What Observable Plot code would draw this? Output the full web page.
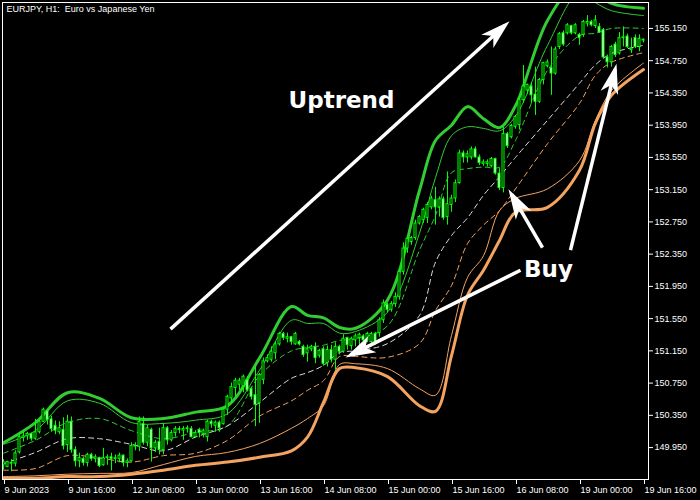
<!DOCTYPE html>
<html><head><meta charset="utf-8">
<script src="https://cdn.jsdelivr.net/npm/d3@7"></script>
<script src="https://cdn.jsdelivr.net/npm/@observablehq/plot@0.6"></script>
<style>html,body{margin:0;padding:0;background:#000;}#chart{width:700px;height:500px;}</style>
</head><body><div id="chart"></div>
<script>
const title = "EURJPY, H1:  Euro vs Japanese Yen";

// hourly candles, bar 0 = 9 Jun 2023 00:00
const opens = [
149.73,149.71,149.75,149.75,149.89,150.07,150.09,150.12,150.06,150.14,
150.27,150.40,150.30,150.22,150.14,150.17,149.98,150.27,149.92,149.78,
149.81,149.76,149.86,149.81,149.82,149.73,149.82,149.83,149.81,149.81,
149.85,149.76,149.78,149.96,149.96,150.24,150.01,150.17,149.94,150.02,
149.92,150.19,150.04,150.13,150.18,150.16,150.18,150.18,150.08,150.17,
150.12,150.08,150.27,150.22,150.26,150.24,150.42,150.56,150.69,150.73,
150.71,150.79,150.68,150.60,150.50,150.79,151.02,151.04,151.12,151.23,
151.36,151.30,151.32,151.23,151.26,151.20,151.12,151.17,151.20,151.09,
151.17,151.00,151.16,151.04,151.20,151.14,151.31,151.21,151.28,151.31,
151.33,151.28,151.26,151.36,151.37,151.53,151.72,151.66,151.73,151.82,
152.13,152.42,152.50,152.55,152.73,152.77,152.80,152.93,153.02,152.93,
153.03,152.81,152.96,153.04,153.23,153.60,153.55,153.55,153.65,153.55,
153.47,153.47,153.44,153.53,153.35,153.17,153.84,153.80,153.93,153.95,
154.26,154.38,154.43,154.33,154.24,154.51,154.68,154.66,154.59,154.92,
155.09,155.09,155.18,155.09,155.07,155.07,155.21,155.23,155.18,155.17,
155.13,154.79,154.73,154.95,154.84,155.03,155.05,154.88,155.03,154.92,
155.00];
const highs = [
149.80,149.78,149.80,149.91,150.12,150.14,150.14,150.13,150.30,150.29,
150.44,150.42,150.34,150.28,150.27,150.32,150.35,150.33,149.96,149.88,
149.83,149.88,149.88,149.86,149.83,149.94,149.86,149.88,149.86,149.88,
149.86,149.81,150.01,150.01,150.33,150.33,150.23,150.19,150.04,150.19,
150.25,150.21,150.16,150.21,150.21,150.21,150.22,150.21,150.16,150.19,
150.18,150.29,150.29,150.28,150.28,150.44,150.60,150.75,150.81,150.81,
150.85,150.83,150.70,150.95,150.87,151.06,151.10,151.20,151.26,151.38,
151.38,151.37,151.33,151.38,151.28,151.22,151.22,151.22,151.25,151.17,
151.20,151.21,151.22,151.25,151.22,151.35,151.32,151.32,151.36,151.37,
151.35,151.38,151.38,151.38,151.56,151.78,151.74,151.76,151.87,152.15,
152.49,152.56,152.57,152.77,152.83,152.92,152.99,153.07,153.18,153.06,
153.06,153.37,153.08,153.27,153.64,153.63,153.63,153.68,153.68,153.58,
153.52,153.52,153.55,153.54,153.42,153.92,153.86,153.96,154.07,154.30,
154.69,154.46,154.47,154.67,154.53,154.73,154.76,154.92,154.92,155.10,
155.12,155.21,155.19,155.21,155.09,155.25,155.31,155.25,155.31,155.21,
155.15,154.82,154.94,154.98,155.10,155.17,155.08,155.03,155.07,155.07,
155.02];
const lows = [
149.67,149.70,149.65,149.71,149.87,150.02,150.04,150.03,150.04,150.12,
150.26,150.23,150.14,150.11,150.11,149.92,149.89,149.88,149.71,149.70,
149.72,149.71,149.78,149.76,149.70,149.72,149.73,149.66,149.75,149.76,
149.71,149.70,149.77,149.91,149.90,149.98,149.96,149.77,149.89,149.86,
149.86,149.98,150.02,150.08,150.12,150.04,150.13,150.07,150.07,150.07,
150.07,150.02,150.19,150.14,150.14,150.23,150.35,150.51,150.58,150.66,
150.63,150.64,150.54,150.21,150.25,150.73,151.00,151.01,151.04,151.21,
151.28,151.25,151.22,151.22,151.21,151.07,151.01,151.14,150.99,151.06,
150.96,150.95,151.00,150.91,151.10,151.12,151.16,151.16,151.20,151.20,
151.26,151.25,151.20,151.22,151.32,151.49,151.62,151.63,151.69,151.78,
152.09,152.36,152.46,152.52,152.71,152.73,152.73,152.90,152.71,152.81,
152.77,152.71,152.87,152.99,153.22,153.48,153.48,153.52,153.54,153.45,
153.44,153.43,153.42,153.33,153.14,153.11,153.66,153.78,153.90,153.89,
154.22,154.33,154.22,154.07,154.22,154.45,154.66,154.32,154.57,154.89,
154.93,155.07,155.07,155.07,154.94,155.04,155.17,155.17,155.15,155.09,
154.78,154.66,154.67,154.79,154.82,154.92,154.90,154.84,154.90,154.86,
154.97];
const closes = [
149.77,149.77,149.76,149.88,150.08,150.09,150.12,150.06,150.14,150.27,
150.42,150.29,150.18,150.16,150.19,149.97,150.27,149.92,149.78,149.82,
149.76,149.86,149.81,149.83,149.72,149.82,149.83,149.81,149.82,149.85,
149.76,149.78,149.97,149.97,150.27,150.01,150.19,149.94,150.01,149.92,
150.19,150.04,150.13,150.18,150.17,150.18,150.19,150.08,150.13,150.13,
150.16,150.27,150.24,150.26,150.19,150.42,150.58,150.70,150.78,150.78,
150.83,150.66,150.58,150.48,150.85,151.02,151.06,151.14,151.23,151.36,
151.31,151.32,151.26,151.36,151.23,151.10,151.17,151.20,151.06,151.15,
150.99,151.16,151.04,151.20,151.14,151.30,151.22,151.30,151.33,151.35,
151.28,151.36,151.36,151.25,151.53,151.74,151.66,151.73,151.82,152.13,
152.42,152.54,152.55,152.73,152.81,152.90,152.96,153.04,152.93,153.03,
152.80,152.97,153.04,153.23,153.60,153.55,153.59,153.65,153.55,153.48,
153.49,153.49,153.53,153.35,153.17,153.84,153.69,153.94,154.05,154.26,
154.43,154.45,154.32,154.24,154.51,154.72,154.73,154.59,154.89,155.08,
154.95,155.19,155.09,155.19,155.03,155.23,155.23,155.19,155.25,155.10,
154.79,154.73,154.92,154.82,155.03,155.04,154.92,154.90,154.92,155.02,
155.01];

// band lines sampled at these bars
const bandBars = [0,8,16,24,32,40,48,56,64,72,76,80,84,88,96,104,108,112,116,120,124,128,136,144,148,152,160];
const upperThick = [150.01,150.26,150.63,150.56,150.32,150.31,150.39,150.47,151.06,151.70,151.59,151.56,151.44,151.43,151.78,153.14,153.76,153.95,154.18,154.03,153.92,154.19,155.25,155.74,155.60,155.46,155.40];
const upperThin  = [149.99,150.16,150.53,150.50,150.26,150.25,150.29,150.37,150.91,151.53,151.49,151.49,151.37,151.39,151.63,152.61,153.30,153.82,153.93,153.91,153.88,154.06,154.94,155.60,155.47,155.37,155.31];
const upperDash  = [149.88,150.04,150.26,150.31,150.16,150.06,150.14,150.22,150.84,151.15,151.19,151.22,151.28,151.30,151.46,152.40,152.83,153.36,153.41,153.43,153.43,153.76,154.63,155.06,155.09,155.15,155.15];
const middleDash = [149.75,149.89,150.06,150.06,149.99,149.91,150.08,150.22,150.51,150.81,150.88,150.97,151.13,151.15,151.24,151.59,152.25,152.58,152.80,153.08,153.31,153.55,154.01,154.47,154.70,154.84,154.94];
const lowerDash  = [149.67,149.69,149.85,149.82,149.77,149.85,149.88,150.04,150.34,150.53,150.66,150.78,151.08,151.08,151.07,151.24,151.65,151.96,152.48,152.71,152.89,153.16,153.72,154.22,154.57,154.73,154.85];
const lowerThin  = [149.59,149.60,149.62,149.63,149.64,149.74,149.84,149.89,150.00,150.19,150.31,150.47,150.98,150.99,150.93,150.68,150.60,151.34,152.06,152.33,152.89,153.04,153.16,153.51,154.01,154.38,154.72];
const lowerThick = [149.57,149.57,149.59,149.59,149.62,149.67,149.73,149.77,149.83,149.91,150.08,150.51,150.93,150.94,150.83,150.47,150.40,151.09,151.84,152.15,152.52,152.87,152.93,153.39,153.98,154.32,154.64];

const priceTicks = [155.15,154.75,154.35,153.95,153.55,153.15,152.75,152.35,151.95,151.55,151.15,150.75,150.35,149.95];
const timeTickBars = [0,16,32,48,64,80,96,112,128,144,160];
const timeTickLabels = ["9 Jun 2023","9 Jun 16:00","12 Jun 08:00","13 Jun 00:00","13 Jun 16:00","14 Jun 08:00","15 Jun 00:00","15 Jun 16:00","16 Jun 08:00","19 Jun 00:00","19 Jun 16:00"];

// annotations (bar, price)
const arrowStartBar   = [41.75, 134.75, 141.75, 129.25];
const arrowStartPrice = [151.42, 152.43, 152.40, 152.15];
const arrowEndBar     = [125.4, 127.0, 152.9, 86.85];
const arrowEndPrice   = [155.19, 153.09, 154.64, 151.10];
const noteTexts  = ["Uptrend", "Buy"];
const noteBars   = [84.5, 136.25];
const notePrices = [154.26, 152.16];

// ---- layout ----
const W = 700, H = 500, mL = 2, mT = 2, mR = 52, mB = 21;
const xDomain = [-0.25, 161.25];
const yDomain = [149.554, 155.472];

const candles = opens.map((o, i) => ({i, o, h: highs[i], l: lows[i], c: closes[i],
  body: closes[i] >= o ? "black" : "white"}));
const band = arr => bandBars.map((b, k) => ({b, v: arr[k]}));

const arrows = arrowStartBar.map((b, k) => ({x1: b, y1: arrowStartPrice[k], x2: arrowEndBar[k], y2: arrowEndPrice[k]}));
const notes = noteTexts.map((t, k) => ({t, x: noteBars[k], y: notePrices[k]}));

const sx = Plot.scale({x: {domain: xDomain, range: [mL, W - mR]}});
const sy = Plot.scale({y: {domain: yDomain, range: [H - mB, mT]}});
function headSymbol(a) {
  const c = Math.cos(a), s = Math.sin(a);
  const pts = [[6, 0], [-24, -9], [-16, 0], [-24, 9]].map(([x, y]) => [x * c - y * s, x * s + y * c]);
  return {draw(ctx) { ctx.moveTo(pts[0][0], pts[0][1]); for (let k = 1; k < pts.length; k++) ctx.lineTo(pts[k][0], pts[k][1]); ctx.closePath(); }};
}
const headMarks = arrows.map(d => {
  const a = Math.atan2(sy.apply(d.y2) - sy.apply(d.y1), sx.apply(d.x2) - sx.apply(d.x1));
  return Plot.dot([d], {x: "x2", y: "y2", symbol: headSymbol(a), r: 10, fill: "white", stroke: "none"});
});

const GREEN = "#32cd32", ORANGE = "#f4a460", LIME = "#00ff00";
const lineOpts = (stroke, w, dash) => ({x: "b", y: "v", stroke, strokeWidth: w, strokeDasharray: dash, curve: "catmull-rom", clip: true});

const chart = Plot.plot({
  width: W, height: H,
  marginLeft: mL, marginTop: mT, marginRight: mR, marginBottom: mB,
  x: {domain: xDomain},
  y: {domain: yDomain},
  style: {background: "#000", color: "#fff", fontFamily: "'Liberation Sans', Arial, sans-serif", fontSize: "9px"},
  marks: [
    Plot.line(band(upperThick), lineOpts(GREEN, 3)),
    Plot.line(band(upperThin), lineOpts(GREEN, 1)),
    Plot.line(band(upperDash), lineOpts(GREEN, 1, "5,4")),
    Plot.line(band(middleDash), lineOpts("#dcdcdc", 1, "5,4")),
    Plot.line(band(lowerDash), lineOpts(ORANGE, 1, "5,4")),
    Plot.line(band(lowerThin), lineOpts(ORANGE, 1)),
    Plot.line(band(lowerThick), lineOpts(ORANGE, 3)),
    Plot.ruleX(candles, {x: "i", y1: "l", y2: "h", stroke: LIME, strokeWidth: 1, clip: true}),
    Plot.rect(candles, {x1: d => d.i - 0.25, x2: d => d.i + 0.25, y1: "o", y2: "c", fill: "body", stroke: LIME, strokeWidth: 1, clip: true}),
    Plot.link(arrows, {x1: "x1", y1: "y1", x2: "x2", y2: "y2", stroke: "white", strokeWidth: 3.5}),
    ...headMarks,
    Plot.text(notes, {x: "x", y: "y", text: "t", fill: "white", fontSize: 23, fontWeight: "bold", fontFamily: "'DejaVu Sans', sans-serif"}),
    Plot.text([title], {frameAnchor: "top-left", dx: 4, dy: 3, textAnchor: "start", lineAnchor: "top", fill: "white", fontSize: 9}),
    Plot.frame({stroke: "white"}),
    Plot.axisY(priceTicks, {anchor: "right", tickFormat: d3.format(".3f"), tickSize: 4, tickPadding: 2, label: null, stroke: "white", fill: "white"}),
    Plot.axisX(timeTickBars, {anchor: "bottom", tickFormat: d => timeTickLabels[timeTickBars.indexOf(d)], textAnchor: "start", tickSize: 5, tickPadding: 2, dx: 1, label: null, stroke: "white", fill: "white"})
  ]
});
document.getElementById("chart").appendChild(chart);
</script>
</body></html>
